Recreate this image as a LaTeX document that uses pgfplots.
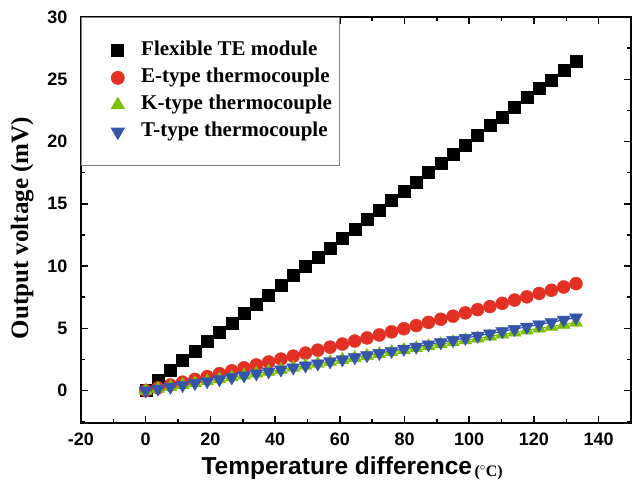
\documentclass[border=0pt]{standalone}
\usepackage{fontspec}
\setmainfont{Liberation Serif}
\newfontfamily\arialfont{Liberation Sans}
\usepackage{pgfplots}
\usepackage{pgfplotstable}
\pgfplotsset{compat=1.18}

\definecolor{ered}{RGB}{226,48,37}
\definecolor{kgreen}{RGB}{124,194,0}
\definecolor{tblue}{RGB}{52,85,170}

% x: temperature difference, te: flexible TE module, e/k/t: thermocouples
\pgfplotstableread{
x     te     e      k      t
0     0.00   0.00   0.00   0.00
3.8   0.85   0.23   0.15   0.15
7.6   1.62   0.45   0.30   0.30
11.4  2.45   0.68   0.45   0.45
15.2  3.15   0.90   0.61   0.60
19.0  3.95   1.13   0.76   0.75
22.8  4.70   1.36   0.91   0.90
26.6  5.45   1.59   1.07   1.06
30.4  6.20   1.83   1.22   1.21
34.2  6.95   2.06   1.38   1.37
38.0  7.70   2.30   1.53   1.53
41.8  8.50   2.53   1.69   1.69
45.6  9.25   2.77   1.84   1.85
49.4  9.95   3.01   2.00   2.01
53.2  10.70  3.25   2.16   2.17
57.0  11.45  3.49   2.31   2.34
60.8  12.25  3.74   2.47   2.50
64.6  12.95  3.98   2.63   2.67
68.4  13.75  4.23   2.79   2.84
72.2  14.45  4.47   2.94   3.01
76.0  15.25  4.72   3.10   3.18
79.8  16.00  4.97   3.26   3.35
83.6  16.70  5.22   3.42   3.52
87.4  17.50  5.48   3.57   3.70
91.2  18.25  5.73   3.73   3.87
95.0  19.00  5.98   3.89   4.05
98.8  19.70  6.24   4.05   4.22
102.6 20.50  6.50   4.20   4.40
106.4 21.30  6.75   4.36   4.58
110.2 21.95  7.01   4.52   4.76
114.0 22.75  7.27   4.67   4.94
117.8 23.55  7.53   4.83   5.12
121.6 24.25  7.80   4.99   5.31
125.4 24.95  8.06   5.14   5.49
129.2 25.70  8.32   5.30   5.68
133.0 26.45  8.59   5.45   5.86
}\tedata

\begin{document}
\begin{tikzpicture}
\begin{axis}[
    name=ax,
    scale only axis,
    width=550pt, height=406pt,
    xmin=-20, xmax=150,
    ymin=-2.6, ymax=30,
    xtick={-20,0,...,140},
    minor xtick={-10,10,...,150},
    ytick={0,5,...,30},
    minor ytick={-2.5,2.5,...,27.5},
    tick align=inside,
    major tick length=7pt,
    minor tick length=4pt,
    tick style={black, line width=1.5pt},
    axis line style={line width=2pt},
    /pgf/number format/assume math mode=true,
    tick label style={font=\arialfont\bfseries\fontsize{18}{18}\selectfont},
    xticklabel style={yshift=-6pt},
    yticklabel style={xshift=-10pt},
    xlabel={{\arialfont\bfseries\fontsize{24.5}{24.5}\selectfont Temperature difference}\ \raisebox{-2pt}{\bfseries\fontsize{16}{16}\selectfont ($^{\circ}$C)}},
    ylabel={\bfseries\fontsize{25}{25}\selectfont Output voltage (mV)},
    xlabel style={at={(axis description cs:0.493,-0.128)}, anchor=base},
    ylabel style={at={(axis description cs:-0.107,0.48)}, anchor=center},
    legend cell align=left,
    legend style={at={(axis description cs:0,1)}, anchor=north west,
        draw=gray, line width=0.8pt, fill=white,
        inner xsep=7pt, inner ysep=24pt, row sep=8pt, column sep=0pt,
        font=\bfseries\fontsize{21}{21}\selectfont,
        nodes={inner sep=0pt, text height=14pt, text depth=5pt}},
    legend image code/.code={\path (0pt,0pt) (52pt,0pt); \draw[#1] plot[only marks] coordinates {(29pt,0pt)};},
]
\addplot[only marks, mark=square*, mark size=6pt, black] table[x=x,y=te]{\tedata};
\addplot[only marks, mark=*, mark size=6.5pt, ered] table[x=x,y=e]{\tedata};
\addplot[only marks, mark=triangle*, mark size=7.5pt, kgreen] table[x=x,y=k]{\tedata};
\addplot[only marks, mark=triangle*, mark size=7.5pt, mark options={rotate=180}, tblue] table[x=x,y=t]{\tedata};
\addplot[forget plot, no marks, black, line width=1.2pt] table[x=x,y=te]{\tedata};
\addplot[forget plot, no marks, ered, line width=1.2pt] table[x=x,y=e]{\tedata};
\addplot[forget plot, no marks, tblue, line width=1.2pt] table[x=x,y=t]{\tedata};
\addplot[forget plot, no marks, kgreen, line width=1.2pt] table[x=x,y=k]{\tedata};
\legend{Flexible TE module, E-type thermocouple, K-type thermocouple, T-type thermocouple}
\end{axis}
\pgfresetboundingbox
\path[use as bounding box] ([xshift=-81pt,yshift=-61pt]ax.south west) rectangle ([xshift=6pt,yshift=17pt]ax.north east);
\end{tikzpicture}
\end{document}
